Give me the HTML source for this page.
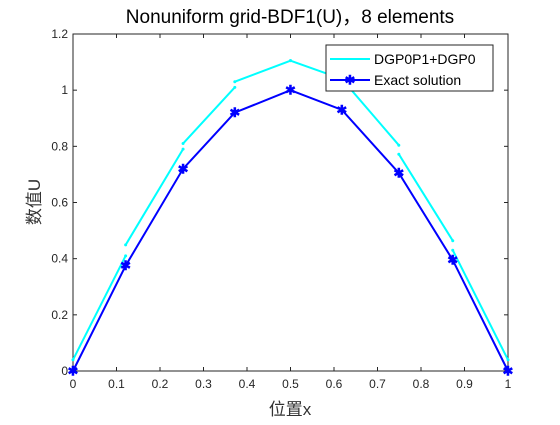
<!DOCTYPE html>
<html><head><meta charset="utf-8"><style>
body{margin:0;background:#fff}
svg text{font-family:"Liberation Sans","Noto Sans CJK SC",sans-serif}
</style></head><body>
<svg id="chart" width="560" height="420" xmlns="http://www.w3.org/2000/svg">
<rect width="560" height="420" fill="#fff"/>
<text x="290" y="23" font-size="19" text-anchor="middle" fill="#000">Nonuniform grid-BDF1(U)，8 elements</text>
<g id="axes"></g>
<g id="series"></g>
<text x="290" y="415" font-size="17" text-anchor="middle" fill="#333">位置x</text>
<text transform="translate(40,202) rotate(-90)" font-size="17" text-anchor="middle" fill="#333">数值U</text>
<g>
<rect x="326" y="45" width="167" height="46" fill="#fff" stroke="#262626" stroke-width="1"/>
<line x1="330" y1="59" x2="370" y2="59" stroke="#00ffff" stroke-width="2"/>
<text x="374" y="64" font-size="14" fill="#000">DGP0P1+DGP0</text>
<line x1="330" y1="80" x2="370" y2="80" stroke="#0000ff" stroke-width="2"/>
<text x="350" y="84.5" font-size="13" text-anchor="middle" fill="#0000ff" font-weight="bold">✱</text>
<text x="374" y="85" font-size="14" fill="#000">Exact solution</text>
</g>
</svg>
<script>
const nodes=[0,0.121,0.253,0.372,0.5,0.618,0.749,0.873,1];
const exact=[0,0.375,0.72,0.92,1,0.93,0.705,0.395,0];
const dgStart=[0.04,0.449,0.81,1.03,1.105,1.04,0.772,0.43];
const dgEnd=[0.41,0.79,1.01,1.105,1.04,0.804,0.464,0.04];
const xTicks=[0,0.1,0.2,0.3,0.4,0.5,0.6,0.7,0.8,0.9,1];
const yTicks=[0,0.2,0.4,0.6,0.8,1,1.2];
const L=73,R=508,T=34,B=371;
const sx=v=>L+v*(R-L), sy=v=>B-v/1.2*(B-T);
const NS="http://www.w3.org/2000/svg";
function mk(t,a,p){const e=document.createElementNS(NS,t);for(const k in a)e.setAttribute(k,a[k]);p.appendChild(e);return e;}
const ax=document.getElementById('axes'), se=document.getElementById('series');
const box=mk('rect',{x:L,y:T,width:R-L,height:B-T,fill:'none',stroke:'#262626','stroke-width':1},ax);


xTicks.forEach(v=>{const x=sx(v);
mk('line',{x1:x,y1:B,x2:x,y2:B-4,stroke:'#262626'},ax);mk('line',{x1:x,y1:T,x2:x,y2:T+4,stroke:'#262626'},ax);
const t=mk('text',{x:x,y:B+17,'font-size':12,'text-anchor':'middle',fill:'#262626'},ax);t.textContent=String(v);

});
yTicks.forEach(v=>{const y=sy(v);
mk('line',{x1:L,y1:y,x2:L+4,y2:y,stroke:'#262626'},ax);mk('line',{x1:R,y1:y,x2:R-4,y2:y,stroke:'#262626'},ax);
const t=mk('text',{x:L-5,y:y+4,'font-size':12,'text-anchor':'end',fill:'#262626'},ax);t.textContent=String(v);

});
for(let i=0;i<dgStart.length;i++){
const l=mk('line',{x1:sx(nodes[i]),y1:sy(dgStart[i]),x2:sx(nodes[i+1]),y2:sy(dgEnd[i]),stroke:'#00ffff','stroke-width':2},se);


[[nodes[i],dgStart[i]],[nodes[i+1],dgEnd[i]]].forEach(p=>mk('circle',{cx:sx(p[0]),cy:sy(p[1]),r:1.5,fill:'#00ffff'},se));
}
const pl=mk('polyline',{points:nodes.map((x,i)=>sx(x)+','+sy(exact[i])).join(' '),fill:'none',stroke:'#0000ff','stroke-width':2},se);


nodes.forEach((x,i)=>{const m=mk('text',{x:sx(x),y:sy(exact[i])+4.5,'font-size':13,'text-anchor':'middle',fill:'#0000ff','font-weight':'bold'},se);m.textContent='✱';

});
</script>
</body></html>
